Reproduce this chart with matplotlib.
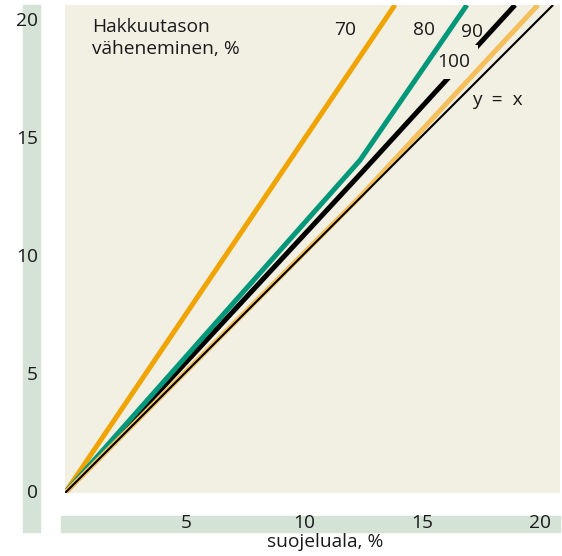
import matplotlib
matplotlib.use("Agg")
import matplotlib.pyplot as plt
from matplotlib.patches import Rectangle
from matplotlib.transforms import blended_transform_factory, offset_copy

plt.rcParams['font.family'] = ['Open Sans', 'DejaVu Sans']

# Protected area share (x) vs. reduction of harvest level (y), both in %
x70 = [0.0, 13.98]
y70 = [0.0, 20.68]

x80 = [0.0, 12.5, 17.03]
y80 = [0.0, 14.1, 20.68]

x90 = [0.0, 12.5, 19.07]
y90 = [0.0, 13.5, 20.68]

x100 = [0.0, 12.5, 20.04]
y100 = [0.0, 12.55, 20.68]

x_ref = [0.0, 20.68]
y_ref = [0.0, 20.68]

x_ticks = [5, 10, 15, 20]
y_ticks = [0, 5, 10, 15, 20]

W, H = 562, 556
BG = '#f2efe3'
BAND = '#d4e3d6'
TXT = '#1a1a1a'
FS = 13.8

fig = plt.figure(figsize=(W / 100, H / 100), dpi=100)
fig.patch.set_facecolor('white')

def fx(px):
    return px / W

def fy(py):
    return 1 - py / H

# axis bands
fig.patches.append(Rectangle((fx(23), fy(532)), fx(40) - fx(23), fy(5) - fy(532),
                             transform=fig.transFigure, color=BAND, zorder=0))
fig.patches.append(Rectangle((fx(61), fy(532)), fx(560) - fx(61), fy(516) - fy(532),
                             transform=fig.transFigure, color=BAND, zorder=0))

ax = fig.add_axes([fx(65), fy(493), fx(560) - fx(65), fy(5) - fy(493)])
ax.set_facecolor(BG)
ax.set_xlim(0, 495 / 23.6)
ax.set_ylim(0, 488 / 23.6)
for s in ax.spines.values():
    s.set_visible(False)
ax.set_xticks([])
ax.set_yticks([])

lw_thick = 3.6
ax.plot(x70, y70, color='#f0a400', lw=lw_thick, solid_capstyle='butt', zorder=2)
ax.plot(x90, y90, color='black', lw=lw_thick, solid_capstyle='butt', zorder=2.2)
ax.plot(x80, y80, color='#00977a', lw=lw_thick, solid_capstyle='butt', zorder=2.6)
ax.plot(x100, y100, color='#f5bf5c', lw=lw_thick, solid_capstyle='butt', zorder=3)
ax.plot(x_ref, y_ref, color='black', lw=1.5, solid_capstyle='butt', zorder=3.1)

# line labels; the "100" label masks the 90 line behind it
ax.text(11.86, 19.62, '70', fontsize=FS, color=TXT, ha='center', va='center', zorder=4)
ax.text(15.2, 19.62, '80', fontsize=FS, color=TXT, ha='center', va='center', zorder=4)
ax.text(17.25, 19.53, '90', fontsize=FS, color=TXT, ha='center', va='center', zorder=4)
ax.text(16.48, 18.26, '100', fontsize=FS, color=TXT, ha='center', va='center', zorder=2.5,
        bbox=dict(boxstyle='square,pad=0.4', fc=BG, ec='none'))
ax.text(18.3, 16.65, 'y  =  x', fontsize=FS, color=TXT, ha='center', va='center', zorder=4)

ax.text(fx(92), fy(38), 'Hakkuutason\nväheneminen, %', transform=fig.transFigure,
        fontsize=FS, color=TXT, ha='left', va='center', linespacing=1.3, zorder=4)

# tick labels
ty = blended_transform_factory(fig.transFigure, ax.transData)
for v in y_ticks:
    fig.text(fx(38), v, str(v), transform=ty, fontsize=FS, color=TXT,
             ha='right', va='center')

tx = offset_copy(blended_transform_factory(ax.transData, fig.transFigure),
                 fig=fig, x=3, y=0, units='dots')
for v in x_ticks:
    fig.text(v, fy(523), str(v), transform=tx, fontsize=FS, color=TXT,
             ha='center', va='center')

fig.text(fx(325), fy(542), 'suojeluala, %', fontsize=FS, color=TXT,
         ha='center', va='center')

fig.savefig('out.png', dpi=100, facecolor='white')
